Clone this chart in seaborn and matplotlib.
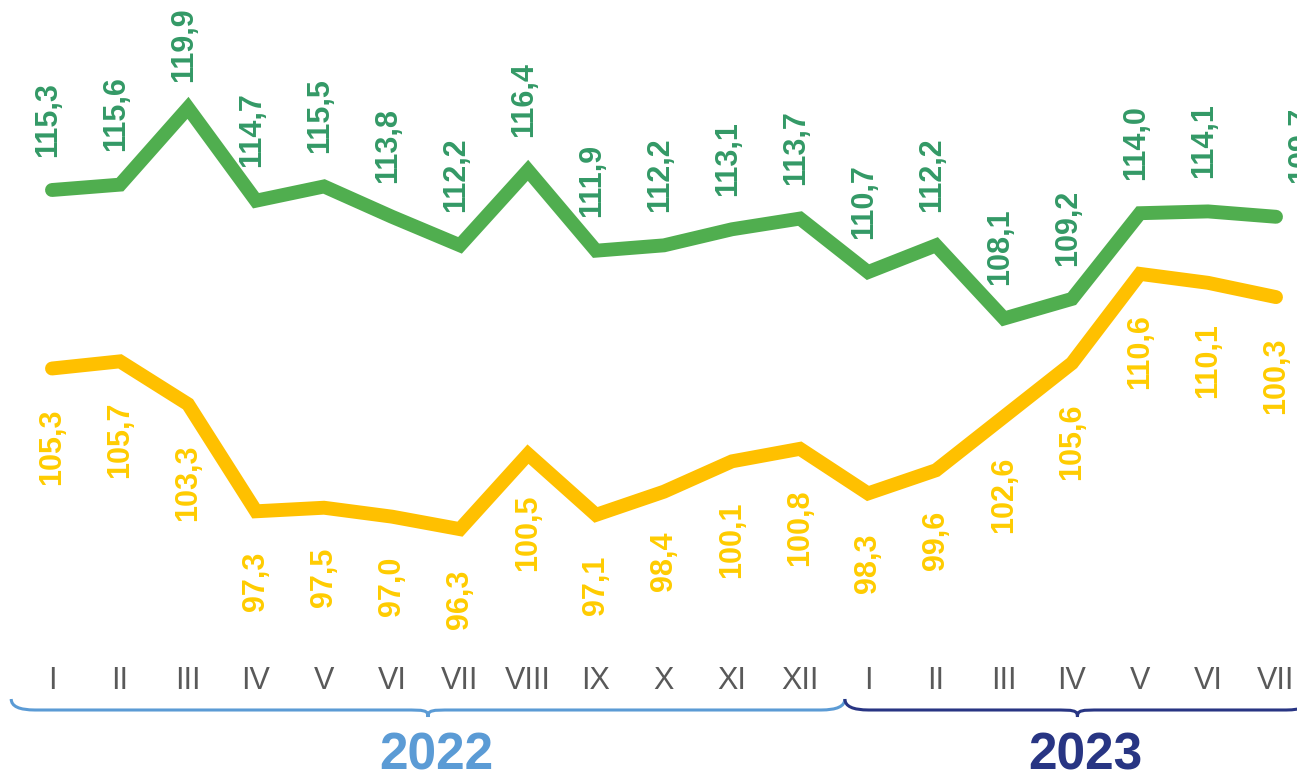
import pandas as pd
import seaborn as sns
import matplotlib.pyplot as plt
from matplotlib.path import Path
from matplotlib.patches import PathPatch
from matplotlib.transforms import blended_transform_factory

# data
months = ['I', 'II', 'III', 'IV', 'V', 'VI', 'VII', 'VIII', 'IX', 'X', 'XI', 'XII',
          'I', 'II', 'III', 'IV', 'V', 'VI', 'VII']
green_vals = [115.3, 115.6, 119.9, 114.7, 115.5, 113.8, 112.2, 116.4, 111.9, 112.2,
              113.1, 113.7, 110.7, 112.2, 108.1, 109.2, 114.0, 114.1, 113.8]
yellow_vals = [105.3, 105.7, 103.3, 97.3, 97.5, 97.0, 96.3, 100.5, 97.1, 98.4,
               100.1, 100.8, 98.3, 99.6, 102.6, 105.6, 110.6, 110.1, 109.3]
green_labels = ['115,3', '115,6', '119,9', '114,7', '115,5', '113,8', '112,2', '116,4',
                '111,9', '112,2', '113,1', '113,7', '110,7', '112,2', '108,1', '109,2',
                '114,0', '114,1', '109,7']
yellow_labels = ['105,3', '105,7', '103,3', '97,3', '97,5', '97,0', '96,3', '100,5',
                 '97,1', '98,4', '100,1', '100,8', '98,3', '99,6', '102,6', '105,6',
                 '110,6', '110,1', '100,3']
years = ['2022', '2023']

GREEN_LINE = '#50AE4F'
GREEN_TXT = '#339966'
YELLOW_LINE = '#FFC000'
YELLOW_TXT = '#FFCC00'
YEAR_COLORS = ['#5B9BD5', '#283583']

sns.set_style('white')
plt.rcParams['font.family'] = ['Liberation Sans', 'DejaVu Sans']

n = len(months)
df = pd.DataFrame({
    'idx': list(range(n)) * 2,
    'value': green_vals + yellow_vals,
    'series': ['green'] * n + ['yellow'] * n,
})

W, H = 1297, 777
fig = plt.figure(figsize=(W / 100, H / 100), dpi=100)
ax_bottom_px = 655
ax = fig.add_axes([0, 1 - ax_bottom_px / H, 1, ax_bottom_px / H])

sns.lineplot(data=df, x='idx', y='value', hue='series',
             palette={'green': GREEN_LINE, 'yellow': YELLOW_LINE},
             linewidth=10, legend=False, ax=ax, sort=False)
for ln in ax.lines:
    ln.set_solid_capstyle('round')
    ln.set_solid_joinstyle('miter')

px_x = 68.0
px_y = 17.85
x0 = -52 / px_x
ax.set_xlim(x0, x0 + W / px_x)
ytop = 115.3 + 190 / px_y
ax.set_ylim(ytop - ax_bottom_px / px_y, ytop)

for i in range(n):
    # the last green label sits further right and runs off the edge,
    # the peak label is pulled down so it stays inside the picture
    dx = 18 if i == n - 1 else -3
    dy = 19 if i == 2 else 24
    ax.annotate(green_labels[i], (i, green_vals[i]), xytext=(dx, dy),
                textcoords='offset points', rotation=90, ha='center', va='bottom',
                fontsize=22, fontweight='bold', color=GREEN_TXT)
    ax.annotate(yellow_labels[i], (i, yellow_vals[i]), xytext=(0, -29),
                textcoords='offset points', rotation=90, ha='center', va='top',
                fontsize=22, fontweight='bold', color=YELLOW_TXT)

ax.set_xticks(range(n))
ax.set_xticklabels(months)
ax.set_yticks([])
ax.tick_params(axis='x', length=0, pad=8, labelsize=22, labelcolor='#595959')
ax.set_xlabel('')
ax.set_ylabel('')
sns.despine(ax=ax, left=True, bottom=True)

# year braces under the month labels
trans = blended_transform_factory(ax.transData, fig.transFigure)


def fy(px):
    return 1 - px / H


def brace(xa, xb, color):
    r = 0.35
    xm = (xa + xb) / 2
    yend, yline, ytip = fy(699), fy(710), fy(717)
    verts = [(xa, yend), (xa, yline), (xa + r, yline),
             (xm - r, yline),
             (xm - r * 0.15, yline), (xm, yline), (xm, ytip),
             (xm, yline), (xm + r * 0.15, yline), (xm + r, yline),
             (xb - r, yline),
             (xb, yline), (xb, yend)]
    codes = [Path.MOVETO, Path.CURVE3, Path.CURVE3,
             Path.LINETO,
             Path.CURVE4, Path.CURVE4, Path.CURVE4,
             Path.CURVE4, Path.CURVE4, Path.CURVE4,
             Path.LINETO,
             Path.CURVE3, Path.CURVE3]
    patch = PathPatch(Path(verts, codes), facecolor='none', edgecolor=color,
                      linewidth=2.2, transform=trans, clip_on=False)
    fig.add_artist(patch)
    return xm


brace_spans = [(-0.6, 11.66), (11.66, 18.5)]
for (xa, xb), yr, col in zip(brace_spans, years, YEAR_COLORS):
    xm = brace(xa, xb, col)
    fig.text(xm + 0.12, fy(769), yr, transform=trans, ha='center', va='baseline',
             fontsize=37, fontweight='bold', color=col)

fig.savefig('out.png', dpi=100)
